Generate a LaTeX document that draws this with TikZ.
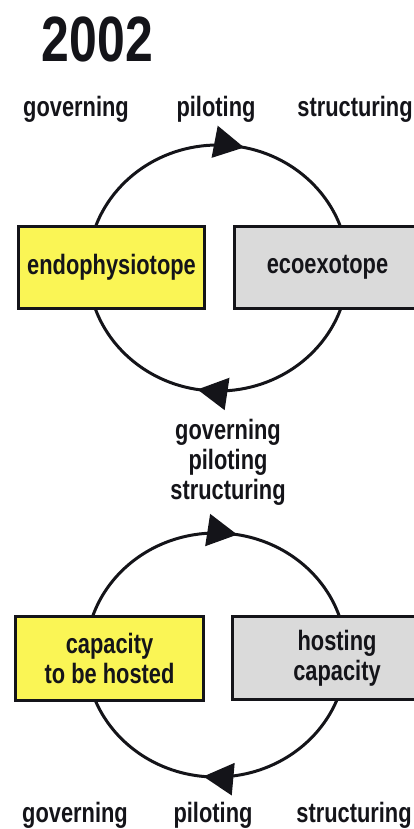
\documentclass[tikz,border=0pt]{standalone}
\usepackage{fontspec}
\setmainfont{Liberation Sans}[FakeStretch=0.78]
\usetikzlibrary{arrows.meta,decorations.markings}
\definecolor{boxyellow}{RGB}{250,245,85}
\definecolor{boxgray}{RGB}{218,218,218}
\definecolor{ink}{RGB}{20,20,25}
\begin{document}
\begin{tikzpicture}[x=1pt,y=-1pt,
  lab/.style={font=\bfseries\fontsize{28}{30}\selectfont, text=ink, inner sep=0pt, align=center},
  box/.style={draw=ink, line width=3pt, minimum height=82pt, inner sep=0pt, lab},
  ybox/.style={box, fill=boxyellow},
  gbox/.style={box, fill=boxgray},
  ring/.style={draw=ink, line width=3pt},
  bigtip/.tip={Triangle[length=30pt,width=32pt]}
]
\useasboundingbox (0,0) rectangle (414,829);
\clip (0,0) rectangle (414,829);

% title
\node[lab, font=\bfseries\fontsize{64}{70}\selectfont, anchor=base] (title) at (97.5,62) {2002};

% upper cycle
\node[lab, anchor=base] (g1) at (76,117) {governing};
\node[lab, anchor=base] (p1) at (216,117) {piloting};
\node[lab, anchor=base] (s1) at (355,117) {structuring};
\coordinate (c1) at (218,268);
\draw[ring, postaction={decorate}, decoration={markings,
    mark=at position 0.283 with {\arrow{bigtip}},
    mark=at position 0.776 with {\arrow{bigtip}}}]
  (c1) ++(-130pt,0pt) arc[start angle=180, end angle=-180, x radius=130pt, y radius=123pt];
\node[ybox, minimum width=186pt] (endo) at (111.5,267.5) {endophysiotope};
\node[gbox, minimum width=186pt] (ecoexo) at (327.5,267.5) {ecoexotope};

% middle labels
\node[lab] (mid) at (228,462) {governing\\piloting\\structuring};

% lower cycle
\coordinate (c2) at (216,655);
\draw[ring, postaction={decorate}, decoration={markings,
    mark=at position 0.277 with {\arrow{bigtip}},
    mark=at position 0.766 with {\arrow{bigtip}}}]
  (c2) ++(-130pt,0pt) arc[start angle=180, end angle=-180, x radius=130pt, y radius=122pt];
\node[ybox, minimum width=188pt, minimum height=84pt] (hosted) at (109.5,658.5) {capacity\\to be hosted};
\node[gbox, minimum width=209pt, minimum height=83pt] (hosting) at (337,658) {hosting\\capacity};

\node[lab, anchor=base] (g2) at (75,822) {governing};
\node[lab, anchor=base] (p2) at (213,822) {piloting};
\node[lab, anchor=base] (s2) at (354,822) {structuring};
\end{tikzpicture}
\end{document}
